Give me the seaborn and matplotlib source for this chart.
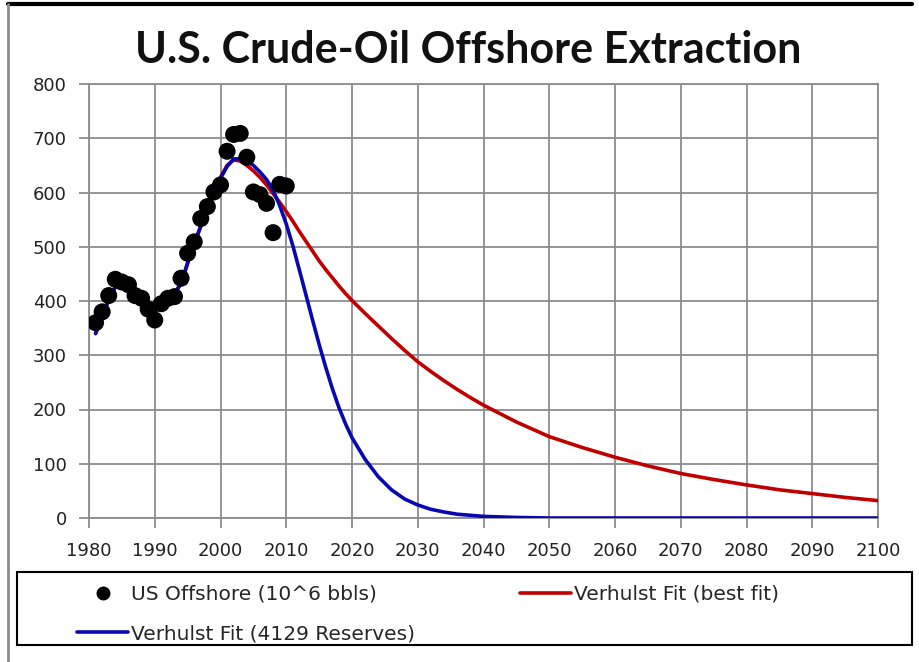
import numpy as np
import pandas as pd
import matplotlib
matplotlib.use("Agg")
import matplotlib.pyplot as plt
from matplotlib.lines import Line2D
from matplotlib.patches import Rectangle
import seaborn as sns

# observed offshore production, 10^6 bbls
obs_years = list(range(1981, 2011))
obs_vals = [360, 380, 410, 440, 435, 430, 410, 405, 385, 365,
            395, 405, 408, 442, 488, 509, 552, 574, 601, 614,
            676, 707, 709, 665, 601, 596, 580, 526, 615, 612]

# curves
fit_years = [1981, 1982, 1983, 1984, 1985, 1986, 1987, 1988, 1989, 1990,
             1991, 1992, 1993, 1994, 1995, 1996, 1997, 1998, 1999, 2000,
             2001, 2002, 2003, 2004, 2005, 2006, 2007, 2008, 2009, 2010,
             2011, 2012, 2013, 2014, 2015, 2016, 2017, 2018, 2019, 2020,
             2022, 2024, 2026, 2028, 2030, 2032, 2034, 2036, 2038, 2040,
             2045, 2050, 2055, 2060, 2065, 2070, 2075, 2080, 2085, 2090,
             2095, 2100]
best_fit = [340, 372, 402, 426, 430, 424, 410, 400, 388, 380,
            390, 402, 414, 432, 470, 505, 538, 568, 598, 628,
            650, 660, 658, 650, 640, 628, 614, 598, 582, 565,
            547, 528, 510, 492, 474, 458, 443, 428, 414, 401,
            377, 354, 331, 309, 288, 270, 253, 237, 222, 208,
            177, 150, 130, 112, 96, 82, 71, 61, 52, 45,
            38, 32]
reserves_fit = [340, 372, 402, 426, 430, 424, 410, 400, 388, 380,
                390, 402, 414, 432, 470, 505, 538, 568, 598, 626,
                648, 662, 662, 658, 650, 638, 624, 604, 576, 542,
                502, 457, 411, 365, 320, 278, 239, 204, 174, 148,
                108, 76, 52, 35, 24, 16, 11, 7, 5, 3,
                1, 0, 0, 0, 0, 0, 0, 0, 0, 0,
                0, 0]

lbl_obs = "US Offshore (10^6 bbls)"
lbl_best = "Verhulst Fit (best fit)"
lbl_res = "Verhulst Fit (4129 Reserves)"

RED = "#c00000"
BLUE = "#0808b0"
GRID = "#8c8c8c"

sns.set_theme(style="whitegrid")
plt.rcParams["font.family"] = ["DejaVu Sans"]

fig = plt.figure(figsize=(9.2, 6.62), dpi=100)
fig.patch.set_facecolor("white")
ax = fig.add_axes([89 / 920, 1 - 518 / 662, (878 - 89) / 920, (518 - 84) / 662])
ax.set_facecolor("white")

df_fit = pd.DataFrame({"year": fit_years, "best": best_fit, "res": reserves_fit})
df_obs = pd.DataFrame({"year": obs_years, "val": obs_vals})

sns.lineplot(data=df_fit, x="year", y="best", color=RED, linewidth=2.6, ax=ax, zorder=3)
sns.lineplot(data=df_fit, x="year", y="res", color=BLUE, linewidth=2.6, ax=ax, zorder=4)
sns.scatterplot(data=df_obs, x="year", y="val", color="black", s=150, edgecolor="none",
                ax=ax, zorder=5)

ax.set_xlim(1980, 2100)
ax.set_ylim(0, 800)
ax.set_xticks(range(1980, 2101, 10))
ax.set_yticks(range(0, 801, 100))
ax.set_xlabel("")
ax.set_ylabel("")
ax.grid(True, color=GRID, linewidth=1.3)
for sp in ax.spines.values():
    sp.set_color(GRID)
    sp.set_linewidth(1.3)
ax.tick_params(axis="both", direction="out", length=7, width=1.3, color=GRID,
               labelsize=13, labelcolor="#222222", left=True, bottom=True)
ax.tick_params(axis="x", pad=10)
ax.tick_params(axis="y", pad=9)

fig.text(0.509, 1 - 50 / 662, "U.S. Crude-Oil Offshore Extraction", ha="center", va="center",
         fontsize=31, fontweight="bold", family=["Lato", "DejaVu Sans"], color="#111111")

# outer chart frame (top and left edges visible in the crop)
fig.add_artist(Line2D([8 / 920, 912 / 920], [1 - 4 / 662, 1 - 4 / 662], color="black",
                      linewidth=3, transform=fig.transFigure))
fig.add_artist(Line2D([8 / 920, 8 / 920], [0, 1 - 4 / 662], color=GRID,
                      linewidth=2, transform=fig.transFigure))

handles = [
    Line2D([], [], marker="o", color="black", linestyle="none", markersize=9),
    Line2D([], [], color=BLUE, linewidth=2.6),
    Line2D([], [], color=RED, linewidth=2.6),
]
labels = [lbl_obs, lbl_res, lbl_best]
fig.legend(handles, labels, ncol=2, loc="upper left",
           bbox_to_anchor=(77 / 920, 1 - 585 / 662), frameon=False,
           borderpad=0, borderaxespad=0,
           handlelength=2.55, handletextpad=0.15, columnspacing=5.2, labelspacing=1.0,
           prop={"size": 14.5})
fig.add_artist(Rectangle((17 / 920, 1 - 645 / 662), 895 / 920, 73 / 662, fill=False,
                         edgecolor="black", linewidth=1.5, transform=fig.transFigure))

fig.savefig("out.png", dpi=100, facecolor="white")
